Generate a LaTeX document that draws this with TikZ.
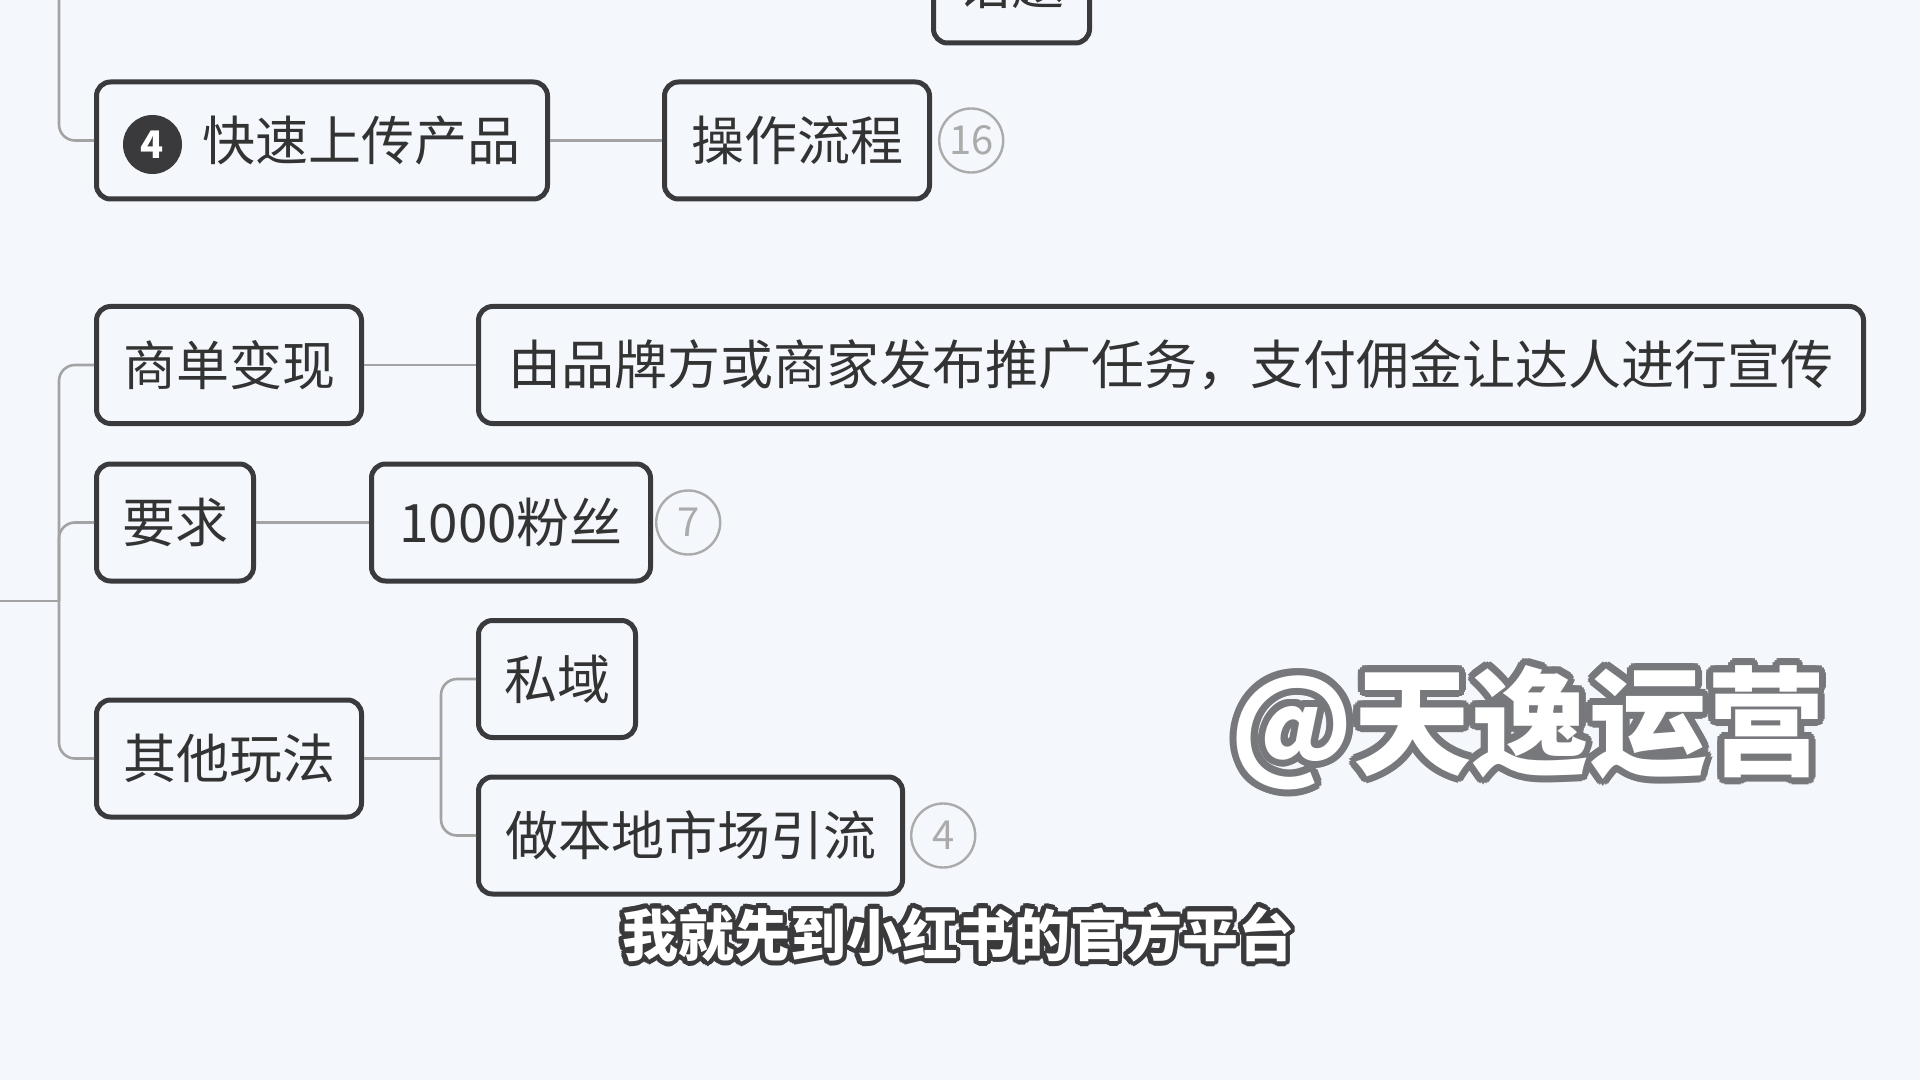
\documentclass[tikz,border=0pt]{standalone}
\usepackage{fontspec}
\setmainfont{Noto Sans CJK SC}
\usepackage{xcolor}
\usepackage[copies]{contour}
\usetikzlibrary{positioning, calc}
\definecolor{mapBg}{HTML}{F4F7FC}
\definecolor{mapBorder}{HTML}{3A3A3C}
\definecolor{mapText}{HTML}{333333}
\definecolor{mapLine}{HTML}{A3A3A3}
\definecolor{mapBadge}{HTML}{ABABAB}
\definecolor{wmGray}{HTML}{77787C}
\newcommand{\mapfont}{\fontsize{26.5}{30}\selectfont}

\begin{document}
\begin{tikzpicture}[x=0.5pt, y=-0.5pt,
  topic/.style={draw=mapBorder, line width=2.5pt, rounded corners=7pt, fill=mapBg,
    text=mapText, font=\mapfont, minimum height=58.5pt, inner sep=0pt},
  badge/.style={circle, draw=mapBadge, line width=1.2pt, minimum size=32pt, inner sep=0pt,
    text=mapBadge, font=\fontsize{20}{20}\selectfont},
  marker/.style={circle, fill=mapBorder, text=white, minimum size=29.5pt, inner sep=0pt,
    font=\bfseries\fontsize{19}{20}\selectfont},
  link/.style={draw=mapLine, line width=1.3pt}]

  \clip (0,0) rectangle (1920,1080);
  \fill[mapBg] (0,0) rectangle (1920,1080);

  % upper branch
  \node[topic, minimum width=78pt] (topic) at (1011.5,-15.5) {话题};
  \node[topic, minimum width=225.5pt, anchor=west] (upload) at (94,140.5) {\hspace*{39.5pt}快速上传产品};
  \node[marker, yshift=-2pt] (m4) at ([xshift=29.25pt]upload.west) {4};
  \node[topic, minimum width=132.5pt, right=56pt of upload] (flow) {操作流程};
  \node[badge, right=3pt of flow] (b16) {16};

  % lower branch
  \node[topic, minimum width=132.5pt, anchor=west] (deal) at (94,365) {商单变现};
  \node[topic, minimum width=692.5pt, right=56pt of deal] (dealtext) {由品牌方或商家发布推广任务，支付佣金让达人进行宣传};
  \node[topic, minimum width=78.5pt, anchor=west] (req) at (94,522.5) {要求};
  \node[topic, minimum width=139.5pt, right=56.5pt of req] (fans) {1000粉丝};
  \node[badge, right=1pt of fans] (b7) {7};
  \node[topic, minimum width=132.5pt, anchor=west] (other) at (94,758.5) {其他玩法};
  \node[topic, minimum width=78.5pt, anchor=west] (siyu) at (476,679) {私域};
  \node[topic, minimum width=212pt, anchor=west] (local) at (476,835.5) {做本地市场引流};
  \node[badge, right=2.5pt of local] (b4) {4};

  % connectors
  \coordinate (topfree) at (59,-10);
  \coordinate (rootfree) at (-10,601);
  \coordinate (spine) at (59,601);
  \coordinate (fork) at ([xshift=38.5pt]other.east);
  \draw[link, rounded corners=8pt] (topfree) |- (upload.west);
  \draw[link] (upload) -- (flow);
  \draw[link] (rootfree) -- (spine);
  \draw[link, rounded corners=8pt] (deal.west) -| (spine) |- (other.west);
  \draw[link, rounded corners=8pt] (spine) |- (req.west);
  \draw[link] (deal) -- (dealtext);
  \draw[link] (req) -- (fans);
  \draw[link] (other.east) -- (fork);
  \draw[link, rounded corners=8pt] (siyu.west) -| (fork) |- (local.west);

  % overlays
  \node[font=\bfseries\fontsize{59}{60}\selectfont, text=white] (wm) at (1528,731)
    {\contourlength{3.5pt}\contour{wmGray}{@天逸运营}};
  \node[font=\bfseries\fontsize{28}{30}\selectfont, text=white] (sub) at (958,937)
    {\contourlength{2.4pt}\contour{mapBorder}{我就先到小红书的官方平台}};
\end{tikzpicture}
\end{document}
